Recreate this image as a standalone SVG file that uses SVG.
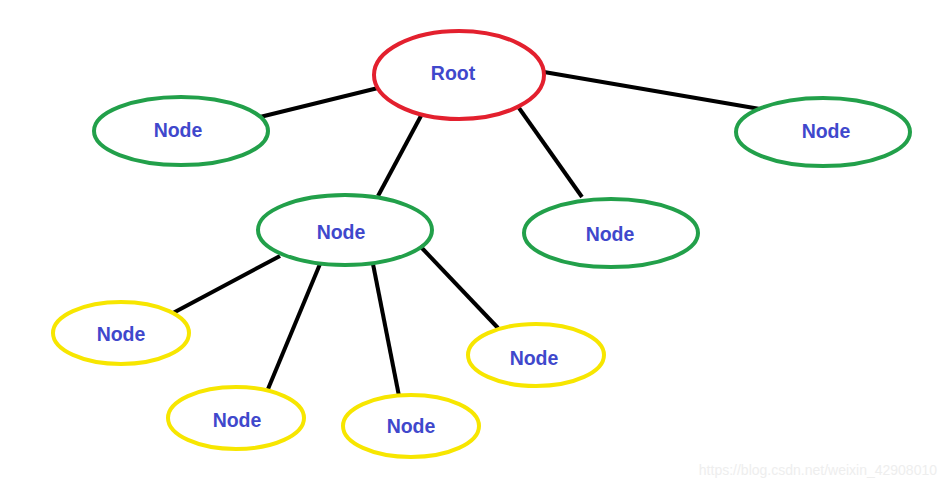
<svg xmlns="http://www.w3.org/2000/svg" width="946" height="488" viewBox="0 0 946 488">
<style>
.e{fill:none;stroke-width:4}
.r{stroke:#e3202e}
.g{stroke:#22a04a}
.y{stroke:#f7e600}
.t{font-family:"Liberation Sans",Arial,sans-serif;font-weight:bold;font-size:19.5px;fill:#3f48cc;text-anchor:middle;dominant-baseline:central}
.c line{stroke:#000;stroke-width:4}
</style>
<rect width="946" height="488" fill="#fff"/>
<g class="c" id="connectors">
<line x1="260" y1="117" x2="378" y2="88"/>
<line x1="544" y1="72" x2="760" y2="109"/>
<line x1="422" y1="114" x2="378" y2="196"/>
<line x1="519" y1="108" x2="582" y2="197"/>
<line x1="280" y1="256" x2="173" y2="313"/>
<line x1="320" y1="264" x2="268" y2="389"/>
<line x1="373" y1="264" x2="399" y2="396"/>
<line x1="420" y1="246" x2="498" y2="328"/>
</g>
<g id="root"><ellipse class="e r" cx="459" cy="75" rx="85" ry="44"/><text class="t" x="453" y="73">Root</text></g>
<g id="n1"><ellipse class="e g" cx="181" cy="131" rx="87" ry="34"/><text class="t" x="178" y="130">Node</text></g>
<g id="n2"><ellipse class="e g" cx="823" cy="132" rx="87" ry="34"/><text class="t" x="826" y="131">Node</text></g>
<g id="n3"><ellipse class="e g" cx="345" cy="230" rx="87" ry="35"/><text class="t" x="341" y="232">Node</text></g>
<g id="n4"><ellipse class="e g" cx="611" cy="233" rx="87" ry="34"/><text class="t" x="610" y="234">Node</text></g>
<g id="n5"><ellipse class="e y" cx="121" cy="333" rx="68" ry="31"/><text class="t" x="121" y="334">Node</text></g>
<g id="n6"><ellipse class="e y" cx="236" cy="418" rx="68" ry="31"/><text class="t" x="237" y="420">Node</text></g>
<g id="n7"><ellipse class="e y" cx="411" cy="426" rx="68" ry="31"/><text class="t" x="411" y="426">Node</text></g>
<g id="n8"><ellipse class="e y" cx="536" cy="355" rx="68" ry="31"/><text class="t" x="534" y="358">Node</text></g>
<text x="937" y="475" text-anchor="end" font-family="Liberation Sans,Arial,sans-serif" font-size="14" fill="#eeeeee">https://blog.csdn.net/weixin_42908010</text>
</svg>
